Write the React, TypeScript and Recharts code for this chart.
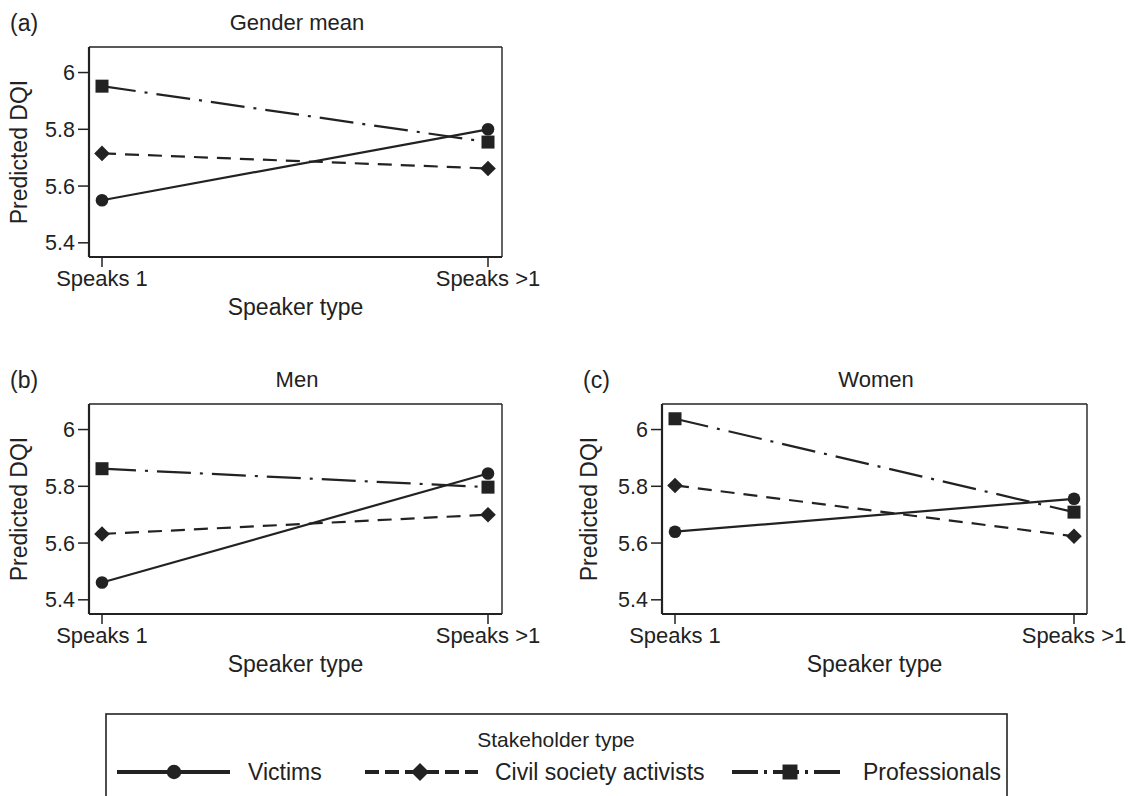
import React from 'react';
import { LineChart, Line, XAxis, YAxis, CartesianGrid } from 'recharts';

// categories on the x axis
const categories = ['Speaks 1', 'Speaks >1'];
const yTicks = [5.4, 5.6, 5.8, 6];
const yDomain: [number, number] = [5.35, 6.09];

// (a) Gender mean
const meanVictims = [5.55, 5.8];
const meanActivists = [5.715, 5.662];
const meanProfessionals = [5.952, 5.755];

// (b) Men
const menVictims = [5.461, 5.845];
const menActivists = [5.632, 5.7];
const menProfessionals = [5.862, 5.797];

// (c) Women
const womenVictims = [5.64, 5.756];
const womenActivists = [5.803, 5.624];
const womenProfessionals = [6.038, 5.709];

const INK = '#222';
const FONT = '"Liberation Sans", Arial, Helvetica, sans-serif';

type Shape = 'circle' | 'diamond' | 'square';

const series: { key: string; name: string; shape: Shape; dash?: string; legendDash?: string }[] = [
  { key: 'professionals', name: 'Professionals', shape: 'square', dash: '34 9 3 9', legendDash: '26 6 3 6' },
  { key: 'activists', name: 'Civil society activists', shape: 'diamond', dash: '14 9', legendDash: '14 6' },
  { key: 'victims', name: 'Victims', shape: 'circle' },
];

const buildRows = (v: number[], a: number[], p: number[]) =>
  categories.map((cat, i) => ({ cat, victims: v[i], activists: a[i], professionals: p[i] }));

function Marker({ cx, cy, shape, s = 1 }: { cx: number; cy: number; shape: Shape; s?: number }) {
  if (shape === 'circle') return <circle cx={cx} cy={cy} r={6.3 * s} fill={INK} />;
  if (shape === 'square') {
    const h = 6.5 * s;
    return <rect x={cx - h} y={cy - h} width={2 * h} height={2 * h} fill={INK} />;
  }
  const d = 7.8 * s;
  return <polygon points={`${cx},${cy - d} ${cx + d},${cy} ${cx},${cy + d} ${cx - d},${cy}`} fill={INK} />;
}

const XTitle = (props: any) => {
  const vb = props.viewBox;
  return (
    <text x={vb.x + vb.width / 2} y={vb.y + 58} textAnchor="middle" fontSize={23} fill={INK} fontFamily={FONT}>
      Speaker type
    </text>
  );
};

const YTitle = (props: any) => {
  const vb = props.viewBox;
  const cx = vb.x + 19;
  const cy = vb.y + vb.height / 2;
  return (
    <text x={cx} y={cy} transform={`rotate(-90 ${cx} ${cy})`} textAnchor="middle" dominantBaseline="central"
      fontSize={23} fill={INK} fontFamily={FONT}>
      Predicted DQI
    </text>
  );
};

interface PanelProps {
  rows: any[];
  left: number;
  top: number;
  width: number;
  height: number;
  plot: { left: number; right: number; top: number; bottom: number };
  pad: [number, number];
}

function Panel({ rows, left, top, width, height, plot, pad }: PanelProps) {
  const tickStyle = { fontSize: 21.5, fill: INK, fontFamily: FONT };
  return (
    <div style={{ position: 'absolute', left, top }}>
      <LineChart
        width={width}
        height={height}
        data={rows}
        margin={{ top: plot.top, right: width - plot.right, bottom: 0, left: 0 }}
      >
        {/* top and right edges of the plot frame */}
        <CartesianGrid
          stroke={INK}
          strokeWidth={1.4}
          horizontalCoordinatesGenerator={({ offset }: any) => [offset.top]}
          verticalCoordinatesGenerator={({ offset }: any) => [offset.left + offset.width]}
        />
        <XAxis
          dataKey="cat"
          type="category"
          interval={0}
          height={height - plot.bottom}
          padding={{ left: pad[0], right: pad[1] }}
          tickSize={10}
          tickMargin={3}
          tick={{ ...tickStyle, fontSize: 22 }}
          tickLine={{ stroke: INK, strokeWidth: 1.5 }}
          axisLine={{ stroke: INK, strokeWidth: 2.2 }}
          label={{ content: XTitle }}
        />
        <YAxis
          domain={yDomain}
          ticks={yTicks}
          type="number"
          width={plot.left}
          allowDataOverflow
          tickSize={11}
          tickMargin={3}
          tick={tickStyle}
          tickLine={{ stroke: INK, strokeWidth: 1.5 }}
          axisLine={{ stroke: INK, strokeWidth: 2.2 }}
          label={{ content: YTitle }}
        />
        {series.map((s) => (
          <Line
            key={s.key}
            dataKey={s.key}
            type="linear"
            stroke={INK}
            strokeWidth={2.2}
            strokeDasharray={s.dash}
            isAnimationActive={false}
            activeDot={false}
            dot={(p: any) => <Marker key={`${s.key}-${p.index}`} cx={p.cx} cy={p.cy} shape={s.shape} />}
          />
        ))}
      </LineChart>
    </div>
  );
}

function Overlay() {
  const txt = { fill: INK, fontFamily: FONT };
  const legendY = 772;
  const items = [
    { s: series[2], x1: 117, x2: 230, m: 174, tx: 248 },
    { s: series[1], x1: 365, x2: 478, m: 420, tx: 495 },
    { s: series[0], x1: 732, x2: 843, m: 790, tx: 863 },
  ];
  return (
    <svg width={1133} height={796} style={{ position: 'absolute', left: 0, top: 0, pointerEvents: 'none' }}>
      <text x={10} y={31} fontSize={23} {...txt}>(a)</text>
      <text x={297} y={30} fontSize={22} textAnchor="middle" {...txt}>Gender mean</text>
      <text x={10} y={388} fontSize={23} {...txt}>(b)</text>
      <text x={297} y={387} fontSize={22} textAnchor="middle" {...txt}>Men</text>
      <text x={583} y={388} fontSize={23} {...txt}>(c)</text>
      <text x={876} y={387} fontSize={22} textAnchor="middle" {...txt}>Women</text>

      <rect x={106} y={714} width={901} height={120} fill="none" stroke={INK} strokeWidth={1.6} />
      <text x={556} y={747} fontSize={21} textAnchor="middle" {...txt}>Stakeholder type</text>
      {items.map((it) => (
        <g key={it.s.key}>
          <line x1={it.x1} x2={it.x2} y1={legendY} y2={legendY} stroke={INK} strokeWidth={4}
            strokeDasharray={it.s.legendDash} />
          <Marker cx={it.m} cy={legendY} shape={it.s.shape} s={1.15} />
          <text x={it.tx} y={legendY + 8} fontSize={23} {...txt}>{it.s.name}</text>
        </g>
      ))}
    </svg>
  );
}

export default function App() {
  return (
    <div style={{ position: 'absolute', left: 0, top: 0, width: 1133, height: 796, background: '#fff', overflow: 'hidden' }}>
      <Panel rows={buildRows(meanVictims, meanActivists, meanProfessionals)} left={0} top={0} width={560} height={330}
        plot={{ left: 89, right: 502, top: 47, bottom: 257 }} pad={[13, 14]} />
      <Panel rows={buildRows(menVictims, menActivists, menProfessionals)} left={0} top={360} width={560} height={330}
        plot={{ left: 89, right: 502, top: 44, bottom: 254 }} pad={[13, 14]} />
      <Panel rows={buildRows(womenVictims, womenActivists, womenProfessionals)} left={570} top={360} width={563} height={330}
        plot={{ left: 92, right: 517, top: 44, bottom: 254 }} pad={[13, 13]} />
      <Overlay />
    </div>
  );
}
